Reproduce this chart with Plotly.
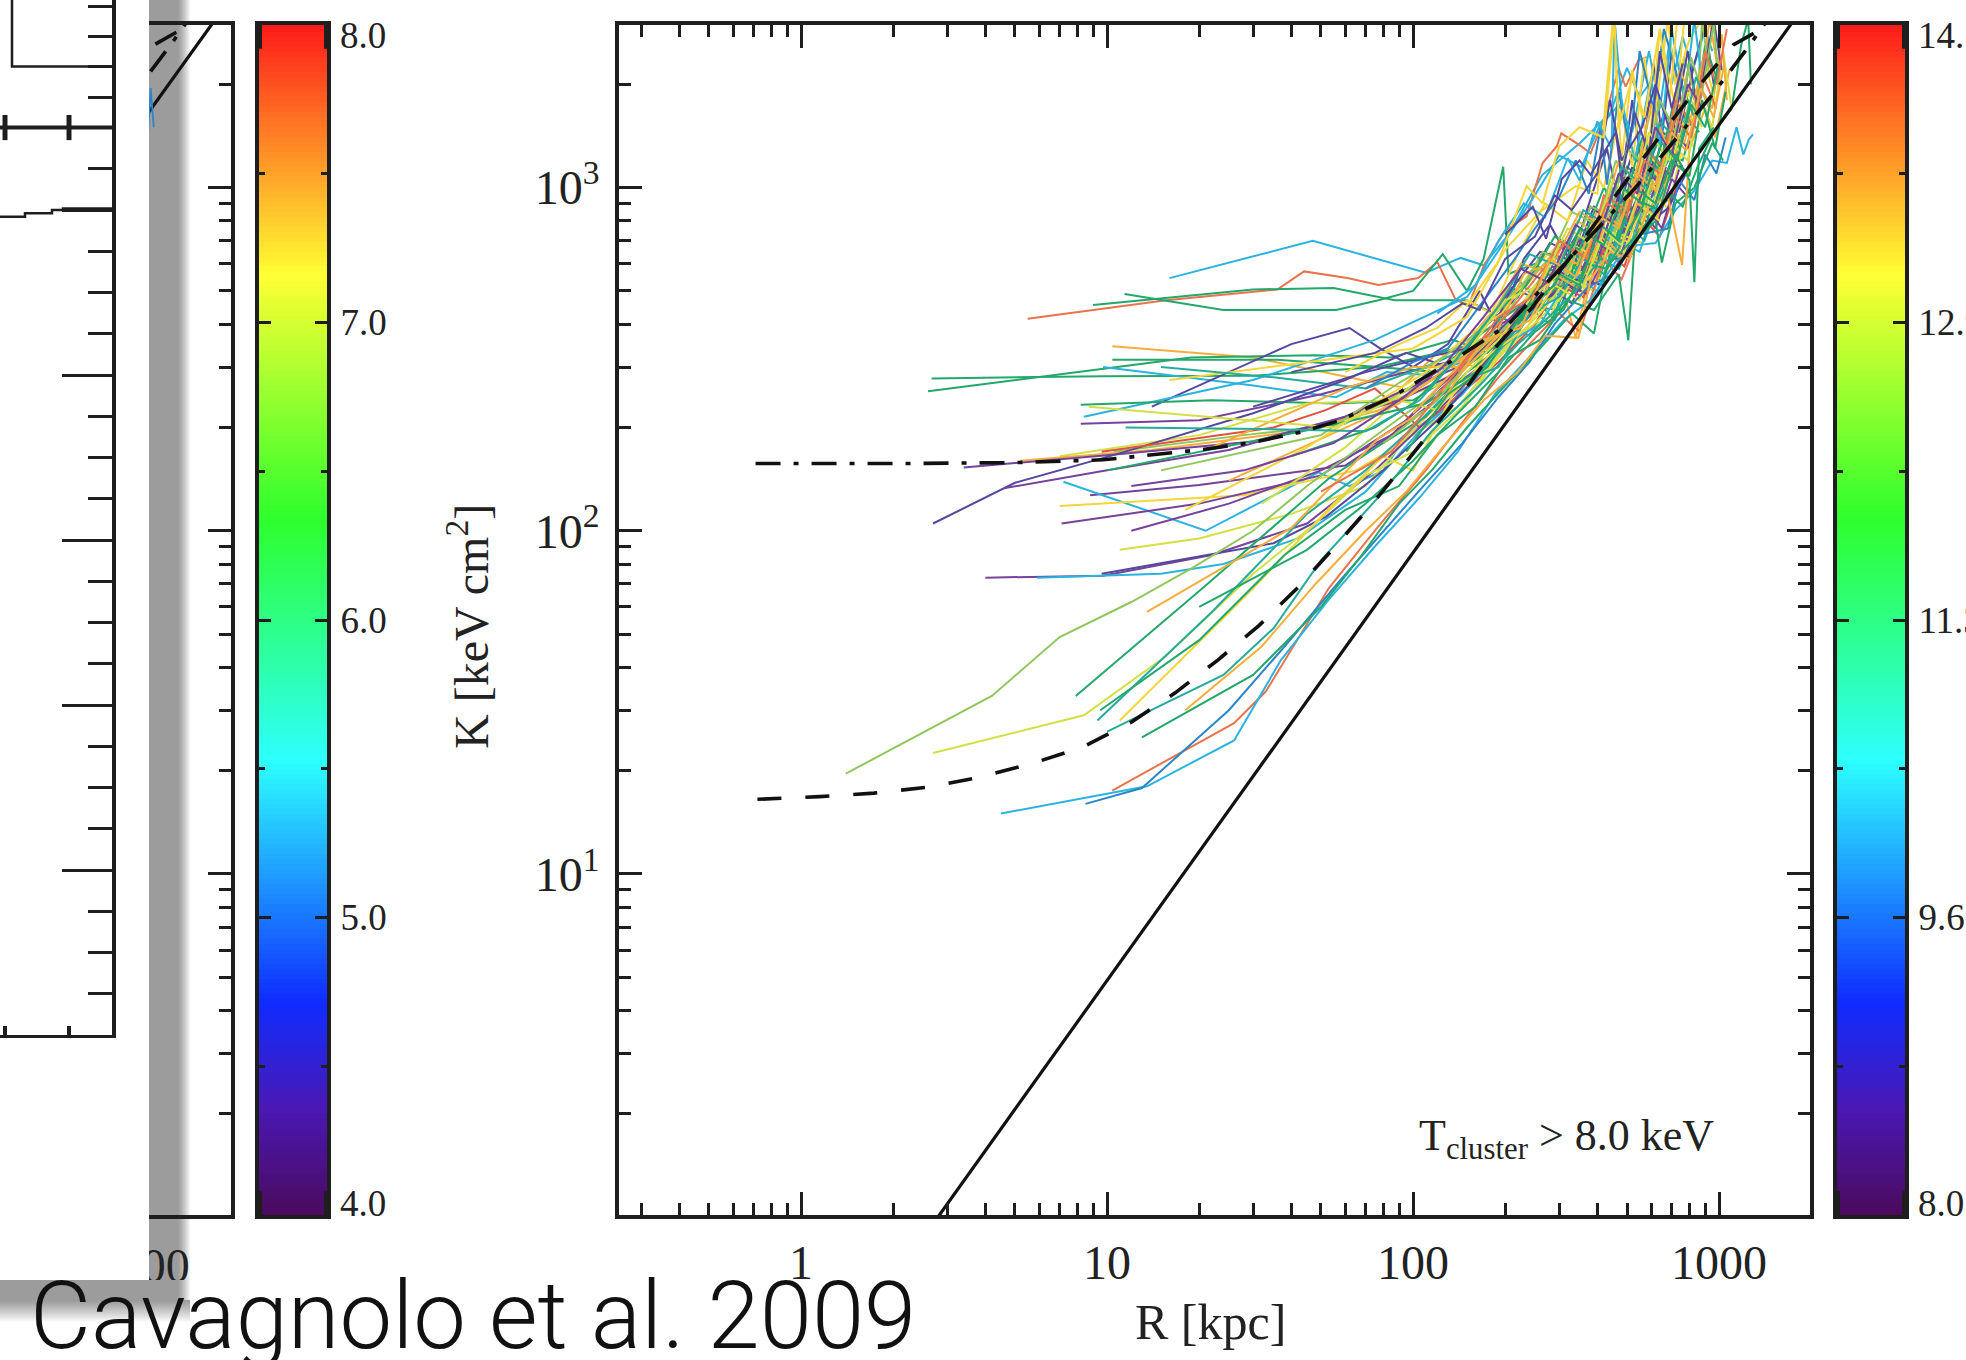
import numpy as np
import plotly.graph_objects as go

W, H = 1966, 1360
INK = "#1e1e1e"

# ---------- reference curves (R kpc, K keV cm2) ----------
solid_r = [2.8, 1718, 2100]
solid_k = [1.0, 2980, 3850]
dash_r = [0.72, 1.15, 1.73, 2.6, 3.8, 5.7, 8.3, 12, 16.7, 23, 31.4, 41.8, 55, 72, 93.5, 117, 153, 185, 244, 331, 407, 520, 660, 847, 1112, 1393, 1750]
dash_k = [16.5, 16.8, 17.2, 17.9, 19.1, 21, 23.4, 27.7, 33.7, 42, 53, 68, 89, 117, 156, 200, 269, 341, 446, 637, 822, 1104, 1462, 1950, 2606, 2920, 3900]
ddot_r = [0.71, 2, 5, 9.7, 20, 30, 43, 57, 85, 143.6, 204, 320, 533, 948, 1260, 1660]
ddot_k = [157, 157, 158, 161, 172, 181, 194, 209, 245, 325, 398, 615, 1000, 1862, 2606, 3700]

# ---------- individual cluster profiles (R, K) ----------
s01 = [(16,545),(47,700),(110,565),(143,624),(170,594),(207,738),(264,1088),(351,1349),(441,1652),(500,2234),(550,1837),(656,2280),(700,2000),(760,2750),(820,2200),(900,2900),(950,2500)]
s02 = [(5.5,415),(15.6,470),(36,505),(44,570),(61,545),(77,520),(104,545),(120,607),(138,470),(152,455),(170,590),(200,750),(235,825),(265,1180),(295,1320),(305,1440),(350,1330),(380,1260),(420,1570),(470,2220),(495,1970),(545,2350),(580,2400)]
s03 = [(9,455),(30,505),(55,510),(87,470),(150,470),(215,400),(260,440),(300,560),(350,500),(400,640),(450,800),(520,700),(600,1100),(680,1250),(760,1200),(850,1700)]
s04 = [(11.4,490),(24,440),(56,440),(77,470),(100,500),(125,640),(150,500),(170,620),(197,1150),(205,560),(250,600),(310,520),(370,720),(440,860),(500,780),(590,1150),(660,1000),(730,1420)]
s05 = [(10.4,345),(30,320),(68,275),(92,262),(120,330),(160,300),(200,400),(245,500),(300,560),(340,365),(390,640),(440,760),(500,700),(560,1000),(640,1150),(700,1400)]
s06 = [(10.4,315),(36,315),(77,300),(120,330),(160,350),(210,410),(270,520),(330,640),(390,600),(450,860),(510,960),(580,1100),(640,1060),(720,1500),(800,1700)]
s07 = [(2.67,278),(9.7,282),(30,283),(77,300),(120,290),(170,380),(230,460),(280,400),(340,600),(405,540),(465,790),(530,830),(610,1000),(700,1250)]
s08 = [(2.6,255),(8.1,290),(18.8,320),(48,325),(85,320),(135,360),(175,330),(220,420),(270,570),(320,500),(380,740),(430,900),(500,1150),(560,1050),(640,1400),(720,1500)]
s09 = [(9.7,300),(30,265),(56,245),(82,290),(108,285),(145,310),(190,400),(240,370),(295,520),(350,700),(410,640),(470,820),(540,1000),(610,950),(700,1300)]
s10 = [(14,230),(40,350),(62,390),(78,340),(100,300),(130,350),(165,500),(190,390),(230,620),(280,780),(330,600),(370,860),(430,1300),(470,900),(520,1800),(560,1150),(610,2300),(650,1400),(700,2500),(770,1600)]
s11 = [(8.4,215),(30,275),(75,360),(150,480),(200,700),(250,950),(300,1240),(355,1150),(405,1500),(470,1740),(520,1450),(590,2500),(640,1700),(690,2700),(740,1900)]
s12 = [(16,275),(45,310),(100,340),(150,420),(200,660),(260,850),(340,1010),(400,960),(450,3100),(480,1200),(520,2200),(590,1300),(640,2900),(720,1700),(770,3100)]
s13 = [(8.2,205),(20,210),(50,250),(88,285),(130,310),(170,340),(210,510),(260,470),(320,660),(370,560),(430,980),(480,810),(550,1200),(620,1050),(700,1500),(790,1300),(880,1900)]
s14 = [(15,300),(35,280),(70,260),(120,310),(180,370),(220,540),(290,410),(340,720),(400,660),(450,1000),(510,860),(570,1280),(650,1100),(730,1700),(820,1500)]
s15 = [(8.2,233),(22,240),(55,235),(100,240),(140,290),(190,350),(240,450),(300,440),(360,650),(420,610),(490,940),(540,830),(620,1230),(690,1050),(780,1650),(860,1450)]
s16 = [(10.5,170),(28,190),(60,205),(90,250),(120,280),(165,360),(210,400),(265,560),(330,500),(385,760),(440,690),(500,980),(570,880),(640,1300),(720,1150),(800,1800)]
s17 = [(7,165),(20,190),(45,235),(85,240),(120,265),(160,330),(200,380),(250,520),(300,470),(350,690),(410,610),(460,870),(530,790),(600,1150),(670,1000),(760,1550),(830,1300)]
s18 = [(5.2,160),(14,172),(42,195),(78,225),(112,270),(160,340),(215,410),(270,470),(330,610),(380,560),(450,800),(500,730),(570,1020),(650,950),(730,1300)]
s19 = [(3.4,153),(10,166),(30,182),(60,215),(98,262),(140,300),(185,390),(235,445),(290,560),(345,510),(400,770),(465,700),(530,1020),(600,930),(680,1320),(760,1150)]
s20 = [(2.7,105),(5,138),(10.7,167),(30,220),(60,275),(95,330),(130,300),(175,400),(220,480),(280,690),(340,640),(390,880),(450,780),(520,1150),(590,1000),(660,1450)]
s21 = [(4.6,133),(10,150),(25,172),(55,210),(90,240),(135,285),(180,350),(230,420),(285,590),(340,530),(400,720),(470,680),(540,920),(600,860),(700,1200),(800,1100)]
s22 = [(8.8,127),(20,136),(60,155),(85,190),(120,260),(170,340),(220,440),(270,520),(340,720),(400,600),(460,960),(530,840),(610,1200),(700,1080),(780,1500)]
s23 = [(7.2,139),(21,100),(30,118),(49,148),(62,135),(80,150),(95,190),(130,230),(170,310),(220,380),(275,500),(340,560),(395,520),(450,780),(520,700),(590,980)]
s24 = [(7,118),(28,127),(65,150),(90,178),(125,240),(170,290),(215,370),(280,420),(330,580),(395,530),(460,760),(520,640),(600,1040),(680,860),(750,1250)]
s25 = [(7.1,105),(20,120),(50,145),(95,210),(130,270),(170,340),(225,420),(285,560),(340,500),(400,690),(450,640),(530,900),(600,800),(670,1150)]
s26 = [(12,100),(25,120),(50,150),(85,190),(125,250),(165,300),(220,410),(270,520),(330,460),(400,650),(470,620),(550,880),(620,760),(700,1060),(780,950)]
s27 = [(9.6,170),(35,200),(52,225),(75,260),(105,200),(150,260),(190,310),(250,400),(300,520),(360,480),(420,660),(490,590),(560,820),(640,720),(730,1020)]
s28 = [(11,88),(20,95),(40,112),(70,135),(95,185),(140,230),(190,320),(240,390),(300,470),(350,570),(420,540),(480,730),(560,690),(640,950)]
s29 = [(4,73),(9.7,74),(22,85),(45,105),(75,150),(105,200),(140,255),(190,340),(250,440),(310,530),(370,490),(440,680),(510,620),(580,880),(650,760),(740,1130)]
s30 = [(5.9,73),(15,75),(24,80),(42,95),(70,130),(105,195),(145,250),(200,350),(260,400),(330,560),(400,500),(470,700),(550,650),(620,900)]
s31 = [(9.6,75),(18,83),(35,92),(52,110),(80,150),(120,210),(160,280),(210,400),(270,470),(340,540),(420,520),(500,660),(580,780),(680,870),(780,1100)]
s32 = [(1.4,19.6),(4.2,33),(7,49),(12,62),(19,78),(30,100),(45,135),(70,180),(95,220),(130,265),(175,345),(225,440),(290,480),(345,660),(410,600),(470,790),(540,730),(610,1050)]
s33 = [(2.7,22.5),(8.4,29),(15.5,43),(30,75),(48,105),(70,145),(100,170),(145,230),(200,340),(260,430),(320,540),(390,500),(450,740),(520,680),(600,930)]
s34 = [(7.9,33),(20.5,68),(53,142),(78,178),(110,215),(150,290),(200,350),(250,470),(310,520),(370,680),(430,600),(500,880),(570,760),(650,1080)]
s35 = [(9.3,28),(22,58),(45,112),(70,150),(100,200),(140,270),(190,300),(240,430),(300,480),(360,620),(420,560),(490,800),(570,700),(660,1000)]
s36 = [(13.5,58),(40,102),(77,186),(110,225),(150,300),(190,370),(240,410),(290,560),(345,510),(410,720),(470,650),(540,900),(630,820),(710,1200)]
s37 = [(11,28),(30,68),(55,120),(80,165),(100,150),(135,250),(180,330),(235,390),(290,520),(350,470),(410,700),(480,620),(560,880),(640,800)]
s38 = [(10,26),(24,38),(35,52),(50,82),(80,130),(115,195),(165,265),(220,350),(270,410),(340,500),(410,620),(470,580),(550,760)]
s39 = [(10.4,17.5),(26,27.5),(33,34),(53,68),(77,103),(110,150),(150,215),(190,280),(240,350),(300,430),(350,380),(420,620),(480,540),(560,760),(650,890)]
s40 = [(4.5,15),(13.5,18),(26,24.5),(37,42),(53,63),(75,90),(105,125),(140,170),(185,250),(240,320),(310,410),(380,470),(460,610),(540,680),(620,690),(720,860),(830,980),(950,1200),(1060,1180),(1140,1500),(1200,1250),(1250,1380),(1290,1430)]
s41 = [(8.5,16),(13,17.8),(25,30),(38,46),(58,72),(80,100),(108,135),(145,180),(190,245),(240,310),(290,400),(370,510),(450,560),(550,730),(680,760),(740,1050),(830,920),(900,1250),(980,1100),(1050,1400)]
s42 = [(9.5,30),(20,48),(38,85),(60,115),(90,135),(120,190),(160,230),(205,320),(260,360),(320,470),(390,440),(470,560),(505,359),(530,700),(620,800),(650,605),(720,900),(830,1000),(950,1350),(1030,1200)]
s43 = [(13,25),(30,38),(50,60),(68,85),(90,120),(115,150),(150,200),(200,265),(260,340),(330,430),(390,376),(430,590),(510,690),(600,820),(700,950),(760,880),(850,1150),(960,1450),(1100,1700),(1180,2600),(1245,3100),(1270,2000)]
s44 = [(18,30),(32,46),(48,70),(70,100),(95,130),(125,175),(170,240),(220,290),(270,370),(347,365),(380,540),(440,650),(510,620),(590,880),(680,940),(757,595),(800,1300),(900,1700),(970,1400),(1080,2200)]
s45 = [(20,60),(45,88),(70,120),(100,160),(140,220),(190,290),(250,380),(310,440),(370,600),(430,580),(510,760),(570,900),(640,860),(720,1250),(800,1050),(830,530),(860,1300),(960,1500)]
s46 = [(32,120),(60,175),(90,240),(120,225),(150,290),(190,360),(240,470),(300,560),(360,520),(420,750),(480,680),(560,1020),(610,900),(700,1350),(790,1200),(860,1800),(950,1500),(1030,2500),(1100,1700)]
s47 = [(25,140),(60,200),(90,235),(130,300),(175,420),(230,510),(285,640),(345,600),(400,860),(470,780),(540,1150),(620,1020),(690,1500),(770,1350),(860,2000),(950,1700),(1020,2800),(1060,1800)]
s48 = [(18,115),(45,175),(78,240),(110,290),(150,370),(195,430),(250,590),(310,700),(370,650),(430,950),(500,860),(560,1300),(640,1150),(720,1750),(820,1550),(890,2400),(970,1800)]
s49 = [(30,230),(70,290),(110,320),(150,340),(200,480),(260,650),(320,620),(380,880),(440,800),(520,1250),(580,1100),(660,1650),(740,1450),(830,2300),(900,3000),(960,2000)]
s50 = [(22,175),(60,260),(100,300),(140,300),(180,420),(225,600),(290,560),(345,800),(410,720),(470,1100),(550,950),(630,1500),(700,1300),(790,2200),(860,1700),(930,3100),(1000,2100)]
s51 = [(40,165),(75,200),(100,235),(145,330),(190,440),(235,520),(290,720),(350,660),(420,1000),(480,840),(560,1400),(640,1150),(740,2100),(830,1600),(900,2600),(1000,2000)]
s52 = [(15,150),(50,190),(90,270),(125,320),(170,390),(215,500),(280,620),(330,850),(400,780),(460,1200),(520,1000),(600,1700),(680,1300),(770,2400),(850,1800),(880,3100),(930,2100)]
s53 = [(60,290),(90,350),(120,390),(150,470),(180,430),(220,640),(270,900),(320,800),(370,1200),(420,1000),(480,1700),(520,1150),(570,2400),(610,1500),(680,3100),(720,2000),(800,2700),(880,3100)]
s54 = [(70,260),(100,310),(130,340),(170,470),(215,620),(250,760),(300,940),(340,1200),(375,960),(410,1500),(430,1020),(470,1900),(510,1300),(550,2500),(610,1700),(660,2900),(730,2100)]
s55 = [(120,430),(160,520),(190,700),(230,900),(270,820),(320,1220),(350,1050),(400,1560),(445,1300),(455,3100),(480,1800),(530,1200),(600,2100),(640,1300),(700,2900),(770,1800),(830,3100),(870,2200)]
s56 = [(40,290),(75,330),(110,390),(145,460),(165,440),(200,620),(250,720),(290,950),(330,860),(400,1100),(440,1800),(480,1200),(560,1500),(620,2000),(700,1400),(790,2500),(850,1700),(960,3100),(1020,2200)]
s57 = [(10,150),(50,200),(110,235),(170,300),(230,430),(280,580),(350,520),(410,780),(470,700),(530,1000),(620,900),(700,1200),(800,1080),(880,1800),(970,1300),(1050,1900)]
s58 = [(100,220),(140,300),(185,370),(230,560),(290,610),(350,850),(410,780),(470,1200),(530,1050),(600,1750),(680,1300),(740,2200),(830,1800),(900,2500),(980,2000)]
s59 = [(80,180),(120,240),(160,330),(210,450),(265,650),(320,600),(380,880),(440,830),(500,1300),(580,1150),(640,1800),(720,1450),(810,2400),(880,1900),(960,3000),(1000,2000)]
s60 = [(50,130),(85,170),(115,235),(150,320),(200,420),(250,540),(310,680),(370,620),(420,950),(500,860),(570,1300),(650,1160),(720,1800),(830,1500),(900,2500),(980,2000),(1060,2900)]
s61 = [(149,450),(190,610),(235,1010),(265,900),(300,1320),(350,1500),(420,1400),(455,3100),(470,1500),(520,2100),(570,1600),(640,2900),(690,1800),(730,3100)]
s62 = [(200,730),(246,880),(272,710),(306,1060),(350,1200),(380,1090),(406,1200),(460,1450),(480,1060),(530,1650),(590,1250),(640,2500),(700,1700),(760,2300)]
s63 = [(8.7,230),(30,210),(55,200),(85,240),(120,300),(150,330),(200,470),(260,520),(320,760),(380,690),(450,1050),(520,920),(590,1450),(690,1200),(790,1900),(880,1500)]
s64 = [(11.5,200),(32,198),(70,195),(105,240),(140,320),(190,450),(240,640),(300,590),(360,860),(420,790),(480,1150),(570,1000),(640,1550),(750,1350),(840,2100),(930,1700)]
s65 = [(12,135),(28,150),(55,180),(90,240),(125,300),(170,420),(225,580),(275,530),(340,780),(400,700),(470,1100),(540,960),(620,1500),(700,1250),(790,2000),(880,1700)]
s66 = [(140,290),(190,420),(245,480),(300,700),(365,630),(430,900),(500,830),(570,1200),(640,1100),(720,1600),(810,1400),(890,2100),(980,1700)]
s67 = [(125,240),(170,360),(225,390),(280,620),(340,550),(410,820),(470,760),(540,1100),(620,980),(700,1450),(780,1280),(870,1950),(960,1600),(1040,2300)]
s68 = [(95,170),(130,250),(175,300),(230,440),(290,520),(350,760),(420,680),(490,990),(560,900),(650,1350),(730,1200),(810,1750),(900,1500),(990,2250)]

series = [s01,s02,s03,s04,s05,s06,s07,s08,s09,s10,s11,s12,s13,s14,s15,s16,s17,s18,s19,s20,
          s21,s22,s23,s24,s25,s26,s27,s28,s29,s30,s31,s32,s33,s34,s35,s36,s37,s38,s39,s40,
          s41,s42,s43,s44,s45,s46,s47,s48,s49,s50,s51,s52,s53,s54,s55,s56,s57,s58,s59,s60,
          s61,s62,s63,s64,s65,s66,s67,s68]

CYAN, RED, GREEN, INDIGO, YEL = "#2bb3e0", "#e8734d", "#22a86a", "#54489f", "#f4d63a"
LGR, ORG, BLUE, YGR, TEAL, PUR, CRIM = "#8fc75c", "#f5ae3c", "#2b86c8", "#d3df45", "#25aa9c", "#76429c", "#e2503f"
line_colors = [CYAN,RED,GREEN,GREEN,ORG,GREEN,GREEN,GREEN,CYAN,INDIGO,
               CYAN,YEL,PUR,TEAL,GREEN,LGR,YGR,ORG,PUR,INDIGO,
               PUR,PUR,CYAN,YEL,PUR,PUR,CRIM,YGR,PUR,CYAN,
               INDIGO,LGR,YGR,GREEN,TEAL,ORG,YEL,TEAL,RED,CYAN,
               BLUE,GREEN,GREEN,ORG,GREEN,YGR,ORG,YEL,INDIGO,ORG,
               GREEN,LGR,YEL,BLUE,CYAN,INDIGO,GREEN,ORG,LGR,RED,
               YEL,INDIGO,YGR,TEAL,PUR,RED,ORG,GREEN]

# fragment of a thin profile seen in the covered panel
frag_r = [1060, 1085, 1110]
frag_k = [1350, 1950, 1500]

# ---------- covered panel on the far left ----------
step_x = [0, 25, 25, 52, 52, 63, 63, 112]
step_y = [4.96, 4.96, 4.98, 4.98, 5.0, 5.0, 5.01, 5.01]
box_x = [12, 12, 112]
box_y = [6.4, 5.87, 5.87]
bar_x = [0, 112]
bar_y = [5.5, 5.5]
cap_x = [5, 69]
hist_major = [0, 1, 2, 3, 4, 5]
hist_minor = [0.25, 0.5, 0.75, 1.25, 1.5, 1.75, 2.25, 2.5, 2.75, 3.25, 3.5, 3.75, 4.25, 4.5, 4.75,
              5.25, 5.5, 5.685, 5.87, 6.05, 6.235]

# ---------- colour bars ----------
left_ticks = [5.0, 6.0, 7.0]
left_text = ["5.0", "6.0", "7.0"]
left_minor = [4.5, 5.5, 6.5, 7.5]
left_corner_x = [-0.5, -0.5, None, 0.5, 0.5, None, -0.5, -0.5, None, 0.5, 0.5]
left_corner_y = [8, 7.92, None, 8, 7.92, None, 4, 4.08, None, 4, 4.08]
right_ticks = [9.625, 11.25, 12.875]
right_text = ["9.6", "11.3", "12.9"]
right_minor = [8.8125, 10.4375, 12.0625, 13.6875]
right_corner_x = [-0.5, -0.5, None, 0.5, 0.5, None, -0.5, -0.5, None, 0.5, 0.5]
right_corner_y = [14.5, 14.37, None, 14.5, 14.37, None, 8, 8.13, None, 8, 8.13]
rainbow = [[0, "#4b0a5c"], [0.09, "#4a18b4"], [0.179, "#0f2cff"], [0.381, "#2dffff"],
           [0.584, "#2dff2d"], [0.79, "#ffff33"], [1, "#ff1a1a"]]

x_major = [1, 10, 100, 1000]
x_minor = [m * d for d in (0.1, 1, 10, 100, 1000) for m in range(2, 10)]
y_major = [10, 100, 1000]
y_text = ["10<sup>1</sup>", "10<sup>2</sup>", "10<sup>3</sup>"]
y_minor = [m * d for d in (1, 10, 100, 1000) for m in range(2, 10)]


def dx(a, b):
    return [a / W, b / W]


def dy(top, bottom):
    return [1 - bottom / H, 1 - top / H]


def px_x(v):
    return v / W


def px_y(v):
    return 1 - v / H


fig = go.Figure()

for s, c in zip(series, line_colors):
    rr = [p[0] for p in s]
    kk = [p[1] for p in s]
    fig.add_trace(go.Scatter(x=rr, y=kk, mode="lines", line=dict(color=c, width=2), hoverinfo="skip", showlegend=False))

for ax_x, ax_y in (("x", "y"), ("x2", "y2")):
    fig.add_trace(go.Scatter(x=solid_r, y=solid_k, xaxis=ax_x, yaxis=ax_y, mode="lines",
                             line=dict(color="#111", width=3.2), showlegend=False, hoverinfo="skip"))
    fig.add_trace(go.Scatter(x=dash_r, y=dash_k, xaxis=ax_x, yaxis=ax_y, mode="lines",
                             line=dict(color="#111", width=3.6, dash="24px,24px"), showlegend=False, hoverinfo="skip"))
    fig.add_trace(go.Scatter(x=ddot_r, y=ddot_k, xaxis=ax_x, yaxis=ax_y, mode="lines",
                             line=dict(color="#111", width=3.6, dash="25px,13px,5px,13px"), showlegend=False, hoverinfo="skip"))
fig.add_trace(go.Scatter(x=frag_r, y=frag_k, xaxis="x2", yaxis="y2", mode="lines",
                         line=dict(color=BLUE, width=1.8), showlegend=False, hoverinfo="skip"))

fig.add_trace(go.Scatter(x=[1015], y=[0.25], xaxis="x6", yaxis="y6", mode="text", text=["1000"],
                         textfont=dict(family="Liberation Serif", size=48, color="#222"),
                         textposition="middle center", showlegend=False, hoverinfo="skip"))

fig.add_trace(go.Heatmap(x=[0], y=np.linspace(4, 8, 240), z=[[v] for v in np.linspace(4, 8, 240)], xaxis="x3", yaxis="y3",
                         colorscale=rainbow, showscale=False, hoverinfo="skip", zmin=4, zmax=8))
fig.add_trace(go.Heatmap(x=[0], y=np.linspace(8, 14.5, 240), z=[[v] for v in np.linspace(8, 14.5, 240)], xaxis="x4", yaxis="y4",
                         colorscale=rainbow, showscale=False, hoverinfo="skip", zmin=8, zmax=14.5))
fig.add_trace(go.Scatter(x=left_corner_x, y=left_corner_y, xaxis="x3", yaxis="y3", mode="lines", cliponaxis=False,
                         line=dict(color=INK, width=6), showlegend=False, hoverinfo="skip"))
fig.add_trace(go.Scatter(x=right_corner_x, y=right_corner_y, xaxis="x4", yaxis="y4", mode="lines", cliponaxis=False,
                         line=dict(color=INK, width=6), showlegend=False, hoverinfo="skip"))

fig.add_trace(go.Scatter(x=step_x, y=step_y, xaxis="x5", yaxis="y5", mode="lines",
                         line=dict(color=INK, width=2.5), showlegend=False, hoverinfo="skip"))
fig.add_trace(go.Scatter(x=box_x, y=box_y, xaxis="x5", yaxis="y5", mode="lines",
                         line=dict(color=INK, width=2.5), showlegend=False, hoverinfo="skip"))
fig.add_trace(go.Scatter(x=bar_x, y=bar_y, xaxis="x5", yaxis="y5", mode="lines",
                         line=dict(color=INK, width=4), showlegend=False, hoverinfo="skip"))
fig.add_trace(go.Scatter(x=cap_x, y=bar_y, xaxis="x5", yaxis="y5", mode="markers",
                         marker=dict(symbol="line-ns", size=18, line=dict(color=INK, width=5)),
                         showlegend=False, hoverinfo="skip"))

serif = dict(family="Liberation Serif", color="#222")
line_opts = dict(showline=True, linecolor=INK, showgrid=False, zeroline=False)
minor_main = dict(ticks="inside", ticklen=12, tickwidth=3, tickcolor=INK, showgrid=False)
YTOP, YBOT = 25, 1215

layout = dict(
    width=W, height=H, margin=dict(l=0, r=0, t=0, b=0, autoexpand=False), autosize=False,
    paper_bgcolor="white", plot_bgcolor="rgba(0,0,0,0)", showlegend=False,
    xaxis=dict(type="log", range=[-0.595, 3.297], domain=dx(619, 1810), anchor="y", mirror="allticks",
               linewidth=3.5, ticks="inside", ticklen=23, tickwidth=3, tickcolor=INK,
               tickmode="array", tickvals=x_major, ticktext=["1", "10", "100", "1000"],
               minor=dict(tickmode="array", tickvals=x_minor, **minor_main),
               tickfont=dict(size=48, **serif), ticklabelstandoff=3, tickangle=0, **line_opts),
    yaxis=dict(type="log", range=[0.006, 3.474], domain=dy(YTOP, YBOT), anchor="x", mirror="allticks",
               linewidth=3.5, ticks="inside", ticklen=23, tickwidth=3, tickcolor=INK,
               tickmode="array", tickvals=y_major, ticktext=y_text,
               minor=dict(tickmode="array", tickvals=y_minor, **minor_main),
               tickfont=dict(size=48, **serif), ticklabelstandoff=6, **line_opts),
    xaxis2=dict(type="log", range=[3.03, 3.297], domain=dx(149, 231), anchor="y2", mirror=True,
                linewidth=3.5, ticks="", showticklabels=False, **line_opts),
    yaxis2=dict(type="log", range=[0.006, 3.474], domain=dy(YTOP, YBOT), anchor="x2", side="right",
                linewidth=3.5, ticks="inside", ticklen=23, tickwidth=3, tickcolor=INK,
                tickmode="array", tickvals=y_major, showticklabels=False,
                minor=dict(tickmode="array", tickvals=y_minor, **minor_main), **line_opts),
    xaxis3=dict(range=[-0.5, 0.5], domain=dx(259, 327), anchor="y3", mirror=True, linewidth=4,
                ticks="", showticklabels=False, **line_opts),
    yaxis3=dict(range=[4, 8], domain=dy(YTOP, YBOT), anchor="x3", side="right", mirror="allticks", linewidth=4,
                ticks="inside", ticklen=12, tickwidth=3, tickcolor=INK, tickmode="array",
                tickvals=left_ticks, ticktext=left_text, tickfont=dict(size=37, **serif),
                minor=dict(tickmode="array", tickvals=left_minor, ticks="inside", ticklen=6, tickwidth=3, tickcolor=INK, showgrid=False),
                ticklabelstandoff=2, **line_opts),
    xaxis4=dict(range=[-0.5, 0.5], domain=dx(1837, 1905), anchor="y4", mirror=True, linewidth=4,
                ticks="", showticklabels=False, **line_opts),
    yaxis4=dict(range=[8, 14.5], domain=dy(YTOP, YBOT), anchor="x4", side="right", mirror="allticks", linewidth=4,
                ticks="inside", ticklen=12, tickwidth=3, tickcolor=INK, tickmode="array",
                tickvals=right_ticks, ticktext=right_text, tickfont=dict(size=37, **serif),
                minor=dict(tickmode="array", tickvals=right_minor, ticks="inside", ticklen=6, tickwidth=3, tickcolor=INK, showgrid=False),
                ticklabelstandoff=2, **line_opts),
    xaxis5=dict(range=[0, 112], domain=dx(0, 112), anchor="y5", linewidth=3, ticks="inside", ticklen=9,
                tickwidth=4, tickcolor=INK, tickmode="array", tickvals=cap_x, showticklabels=False, **line_opts),
    yaxis5=dict(range=[0, 6.273], domain=dy(0, 1035), anchor="x5", side="right", linewidth=4, ticks="inside",
                ticklen=50, tickwidth=3, tickcolor=INK, tickmode="array", tickvals=hist_major, showticklabels=False,
                minor=dict(tickmode="array", tickvals=hist_minor, ticks="inside", ticklen=24, tickwidth=3, tickcolor=INK, showgrid=False),
                **line_opts),
    xaxis6=dict(type="log", range=[3.03, 3.297], domain=dx(149, 231), anchor="y6", visible=False),
    yaxis6=dict(range=[0, 1], domain=dy(1240, 1280), anchor="x6", visible=False),
)
fig.update_layout(**layout)

shapes = []
GR = 156
fade_x = list(range(177, 191))
for i, x0 in enumerate(fade_x):
    t = i / (len(fade_x) - 1)
    v = int(GR + (255 - GR) * t ** 1.3)
    shapes.append(dict(type="rect", xref="paper", yref="paper", layer="below",
                       x0=px_x(x0), x1=px_x(x0 + 1), y0=px_y(1300), y1=px_y(0),
                       fillcolor=f"rgb({v},{v},{v})", line=dict(width=0)))
fade_y = list(range(1300, 1323))
for i, y0 in enumerate(fade_y):
    t = i / (len(fade_y) - 1)
    v = int(GR + (255 - GR) * t ** 1.1)
    shapes.append(dict(type="rect", xref="paper", yref="paper", layer="below",
                       x0=0, x1=px_x(190), y0=px_y(y0 + 1), y1=px_y(y0),
                       fillcolor=f"rgb({v},{v},{v})", line=dict(width=0)))
shapes.append(dict(type="rect", xref="paper", yref="paper", layer="below", x0=0, x1=px_x(177), y0=px_y(1300), y1=px_y(0),
                   fillcolor=f"rgb({GR},{GR},{GR})", line=dict(width=0)))
shapes.append(dict(type="rect", xref="paper", yref="paper", layer="below", x0=0, x1=px_x(149), y0=px_y(1280), y1=px_y(0),
                   fillcolor="white", line=dict(width=0)))
fig.update_layout(shapes=shapes)

base = dict(showarrow=False)
notes = [
    dict(text="K [keV cm<sup>2</sup>]", x=px_x(468), y=px_y(627), xref="paper", yref="paper", textangle=-90,
         xanchor="center", yanchor="middle", font=dict(size=48, **serif), **base),
    dict(text="R [kpc]", x=px_x(1210), y=px_y(1322), xref="paper", yref="paper", xanchor="center", yanchor="middle",
         font=dict(size=50, **serif), **base),
    dict(text="T<sub>cluster</sub> > 8.0 keV", x=px_x(1566), y=px_y(1138), xref="paper", yref="paper",
         xanchor="center", yanchor="middle", font=dict(size=44, **serif), **base),
    dict(text="10<sup>0</sup>", x=px_x(602), y=0, xref="paper", yref="y", xanchor="right", yanchor="middle", yshift=17,
         font=dict(size=48, **serif), **base),
    dict(text="8.0", x=px_x(338), y=8, xref="paper", yref="y3", xanchor="left", yanchor="middle", yshift=-10,
         font=dict(size=37, **serif), **base),
    dict(text="4.0", x=px_x(338), y=4, xref="paper", yref="y3", xanchor="left", yanchor="middle", yshift=12,
         font=dict(size=37, **serif), **base),
    dict(text="14.5", x=px_x(1916), y=14.5, xref="paper", yref="y4", xanchor="left", yanchor="middle", yshift=-10,
         font=dict(size=37, **serif), **base),
    dict(text="8.0", x=px_x(1916), y=8, xref="paper", yref="y4", xanchor="left", yanchor="middle", yshift=12,
         font=dict(size=37, **serif), **base),
    dict(text="Cavagnolo et al. 2009", x=px_x(28), y=px_y(1316), xref="paper", yref="paper", xanchor="left", yanchor="middle",
         font=dict(size=94, family="Roboto", color="#111", weight=300), **base),
]
fig.update_layout(annotations=notes)

fig.write_html("out.html", config=dict(displayModeBar=False),
               post_script="document.body.style.margin='0';document.body.style.overflow='hidden';")
